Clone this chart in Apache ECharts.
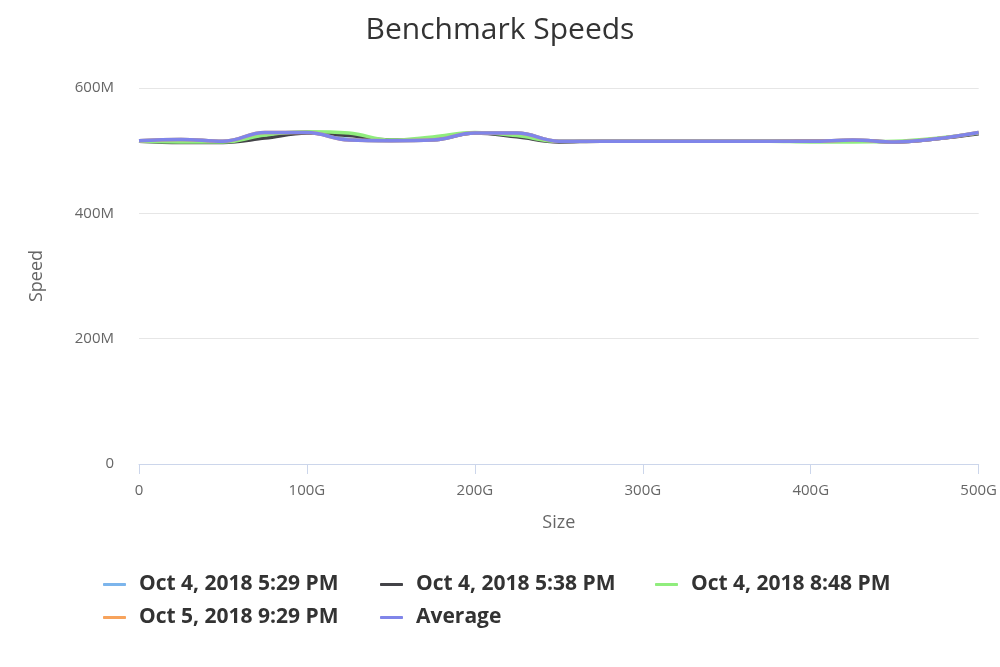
<!DOCTYPE html>
<html>
<head>
<meta charset="utf-8">
<script src="https://cdn.jsdelivr.net/npm/echarts@6/dist/echarts.min.js"></script>
<style>
html,body{margin:0;padding:0;background:#fff;}
#chart{width:1000px;height:667px;}
</style>
</head>
<body>
<div id="chart"></div>
<script>
// Sizes in GB
const sizes = [0,25,50,75,100,125,150,175,200,225,250,275,300,325,350,375,400,425,450,475,500];
// Speeds in MB/s (M)
const run1 = [516,518,515,528,529,518,516,517,528,528,515,515,515,515,515,515,515,517,514,519,529]; // Oct 4, 2018 5:29 PM
const run2 = [515,513,513,520,528,524,517,518,528,522,514,515,515,515,515,515,515,516,514,519,527]; // Oct 4, 2018 5:38 PM
const run3 = [515,514,514,525,530,528,517,522,529,524,515,515,515,515,515,515,514,514,515,520,528]; // Oct 4, 2018 8:48 PM
const run4 = [516,518,515,529,529,517,516,517,528,528,515,515,515,515,515,515,515,517,514,519,529]; // Oct 5, 2018 9:29 PM
const avg  = [516,518,515,529,529,517,516,517,528,528,515,515,515,515,515,515,515,517,514,519,529]; // Average

const names = ['Oct 4, 2018 5:29 PM','Oct 4, 2018 5:38 PM','Oct 4, 2018 8:48 PM','Oct 5, 2018 9:29 PM','Average'];
const colors = ['#7cb5ec','#434348','#90ed7d','#f7a35c','#8085e9'];
const xTicks = ['0','100G','200G','300G','400G','500G'];
const yTicks = ['0','200M','400M','600M'];
const allData = [run1, run2, run3, run4, avg];

const font = '"Open Sans", "DejaVu Sans", sans-serif';
const chart = echarts.init(document.getElementById('chart'));

const legendPos = [[103,574],[380,574],[655,574],[103,607],[380,607]];

chart.setOption({
  animation:false,
  backgroundColor:'#fff',
  title:{
    text:'Benchmark Speeds', left:'center', top:10,
    textStyle:{fontFamily:font, fontSize:30, fontWeight:'normal', color:'#333'}
  },
  legend: names.map((n,i)=>({
    data:[n], left:legendPos[i][0], top:legendPos[i][1], padding:0,
    icon:'roundRect', itemWidth:23, itemHeight:3, itemGap:0,
    textStyle:{fontFamily:font, fontSize:21, fontWeight:'bold', color:'#333', padding:[0,0,0,8]}
  })),
  grid:{left:139, right:18, top:88, bottom:203},
  xAxis:{
    type:'value', min:0, max:500, interval:100,
    name:'Size', nameLocation:'middle', nameGap:50,
    nameTextStyle:{fontFamily:font, fontSize:18, color:'#666'},
    axisLine:{show:true, lineStyle:{color:'#ccd6eb', width:1}},
    axisTick:{show:true, length:10, lineStyle:{color:'#ccd6eb'}},
    axisLabel:{fontFamily:font, fontSize:15, color:'#666', margin:19,
      formatter:(v)=>xTicks[Math.round(v/100)]},
    splitLine:{show:false}
  },
  yAxis:{
    type:'value', min:0, max:600, interval:200,
    name:'Speed', nameLocation:'middle', nameGap:93, nameRotate:90,
    nameTextStyle:{fontFamily:font, fontSize:18, color:'#666'},
    axisLine:{show:false}, axisTick:{show:false},
    axisLabel:{fontFamily:font, fontSize:15, color:'#666', margin:25,
      formatter:(v)=>yTicks[Math.round(v/200)]},
    splitLine:{lineStyle:{color:'#e6e6e6', width:1}}
  },
  series: names.map((n,i)=>({
    name:n, type:'line', smooth:0.4, showSymbol:false,
    data: sizes.map((s,j)=>[s, allData[i][j]]),
    lineStyle:{color:colors[i], width:3.5},
    itemStyle:{color:colors[i]},
    z: 2+i
  }))
});
</script>
</body>
</html>
